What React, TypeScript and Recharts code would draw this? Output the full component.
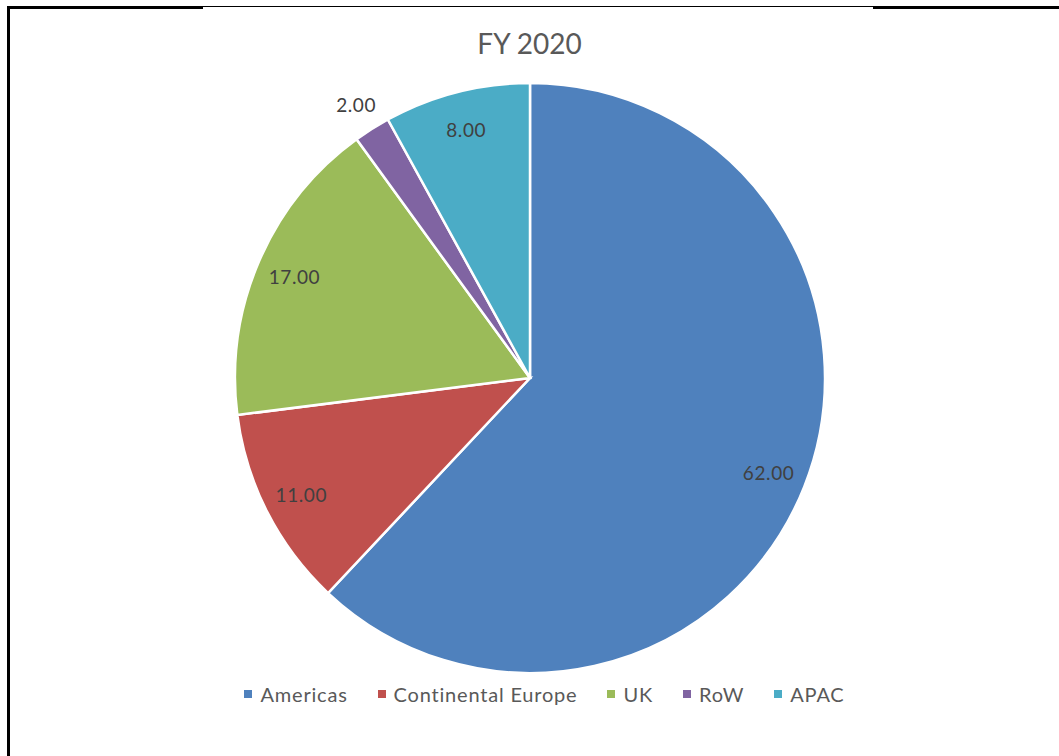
import React from "react";
import { PieChart, Pie, Cell, Legend } from "recharts";

const regions = ["Americas", "Continental Europe", "UK", "RoW", "APAC"];
const shares = [62, 11, 17, 2, 8];
const colors = ["#4F81BD", "#C0504D", "#9BBB59", "#8064A2", "#4BACC6"];
const outsideLabels = ["RoW"];

const data = regions.map((name, i) => ({ name, value: shares[i] }));

const RADIAN = Math.PI / 180;
const FONT = "Lato, 'Open Sans', sans-serif";

const renderLabel = (props: any) => {
  const { cx, cy, midAngle, outerRadius, index, value } = props;
  const outside = outsideLabels.includes(regions[index]);
  const r = outside ? outerRadius * 1.1 : outerRadius * 0.87;
  const x = cx + r * Math.cos(-midAngle * RADIAN);
  const y = cy + r * Math.sin(-midAngle * RADIAN);
  return (
    <text
      x={x}
      y={y}
      fill="#404040"
      fontSize={19}
      letterSpacing={0.6}
      fontFamily={FONT}
      textAnchor="middle"
      dominantBaseline="central"
    >
      {Number(value).toFixed(2)}
    </text>
  );
};

const renderLegend = () => (
  <div
    style={{
      display: "flex",
      justifyContent: "center",
      alignItems: "center",
      paddingLeft: 30,
      fontFamily: FONT,
      fontSize: 20,
      letterSpacing: 0.8,
      color: "#595959",
    }}
  >
    {regions.map((name, i) => (
      <div key={name} style={{ display: "flex", alignItems: "center", marginLeft: i === 0 ? 0 : 30 }}>
        <span
          style={{
            display: "inline-block",
            width: 8,
            height: 8,
            background: colors[i],
            marginRight: 8,
          }}
        />
        <span>{name}</span>
      </div>
    ))}
  </div>
);

export default function App() {
  return (
    <div style={{ position: "absolute", left: 0, top: 0, width: 1059, height: 756, background: "#fff" }}>
      {/* frame */}
      <div style={{ position: "absolute", left: 7, top: 6, width: 196, height: 3, background: "#000" }} />
      <div style={{ position: "absolute", left: 203, top: 6, width: 670, height: 1, background: "#000" }} />
      <div style={{ position: "absolute", left: 873, top: 6, width: 186, height: 3, background: "#000" }} />
      <div style={{ position: "absolute", left: 7, top: 6, width: 3, height: 750, background: "#000" }} />
      <div
        style={{
          position: "absolute",
          left: 0,
          top: 26,
          width: 1059,
          textAlign: "center",
          fontFamily: FONT,
          fontSize: 28,
          color: "#595959",
        }}
      >
        FY 2020
      </div>
      <PieChart
        width={1059}
        height={756}
        margin={{ top: 0, right: 0, bottom: 0, left: 0 }}
        style={{ position: "absolute", left: 0, top: 0 }}
      >
        <Pie
          data={data}
          dataKey="value"
          nameKey="name"
          cx={530}
          cy={378}
          outerRadius={295}
          startAngle={90}
          endAngle={-270}
          stroke="#ffffff"
          strokeWidth={2.5}
          label={renderLabel}
          labelLine={false}
          isAnimationActive={false}
        >
          {data.map((d, i) => (
            <Cell key={d.name} fill={colors[i]} />
          ))}
        </Pie>
        <Legend
          content={renderLegend}
          wrapperStyle={{ position: "absolute", left: 0, top: 682, width: 1059 }}
        />
      </PieChart>
    </div>
  );
}
